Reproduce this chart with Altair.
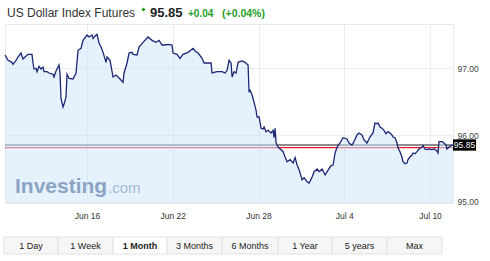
import altair as alt
import pandas as pd

# ---------------- data ----------------
days = [10.26, 10.47, 10.75, 10.82, 11.03, 11.17, 11.38, 11.52, 11.66, 11.87,
        12.15, 12.22, 12.29, 12.43, 12.50, 12.64, 12.78, 12.92, 12.99, 13.20,
        13.34, 13.62, 13.69, 13.83, 14.04, 14.11, 14.18, 14.32, 14.39, 14.53,
        14.60, 14.74, 15.02, 15.23, 15.37, 15.58, 15.72, 16.00, 16.14, 16.35,
        16.42, 16.63, 16.70, 16.84, 16.98, 17.12, 17.33, 17.40, 17.61, 17.82,
        18.03, 18.31, 18.52, 18.59, 18.80, 18.94, 19.15, 19.22, 19.50, 19.64,
        19.92, 20.27, 20.55, 20.83, 21.04, 21.25, 21.46, 21.67, 21.95, 22.02,
        22.30, 22.51, 22.72, 23.07, 23.42, 23.56, 23.77, 24.05, 24.19, 24.47,
        24.68, 24.75, 25.10, 25.45, 25.66, 25.80, 25.94, 26.08, 26.15, 26.29,
        26.43, 26.57, 26.85, 27.06, 27.27, 27.34, 27.41, 27.55, 27.69, 27.83,
        27.90, 28.04, 28.18, 28.32, 28.39, 28.53, 28.67, 28.88, 29.02, 29.09,
        29.16, 29.23, 29.37, 29.58, 29.72, 29.86, 30.00, 30.21, 30.42, 30.56,
        30.70, 30.84, 31.05, 31.19, 31.40, 31.54, 31.75, 31.89, 32.10, 32.24,
        32.45, 32.66, 32.80, 33.08, 33.22, 33.36, 33.50, 33.70, 33.91, 34.19,
        34.33, 34.54, 34.68, 34.89, 35.03, 35.24, 35.38, 35.59, 35.80, 36.01,
        36.15, 36.29, 36.36, 36.50, 36.64, 36.78, 36.92, 37.06, 37.20, 37.34,
        37.41, 37.55, 37.69, 37.76, 37.90, 38.04, 38.11, 38.25, 38.39, 38.46,
        38.60, 38.74, 38.81, 38.95, 39.09, 39.23, 39.44, 39.51, 39.65, 39.79,
        39.93, 40.14, 40.28, 40.49, 40.56, 40.63, 40.84, 40.98, 41.12, 41.19,
        41.33, 41.47, 41.61]

prices = [97.20, 97.12, 97.09, 97.06, 97.12, 97.17, 97.23, 97.14, 97.17, 97.21,
          97.21, 97.08, 96.99, 97.00, 96.95, 97.03, 96.99, 97.02, 96.95, 96.95,
          96.93, 96.91, 96.87, 96.96, 97.05, 96.93, 96.55, 96.42, 96.46, 96.57,
          96.91, 96.85, 96.84, 96.93, 97.27, 97.30, 97.42, 97.50, 97.47, 97.50,
          97.45, 97.50, 97.51, 97.38, 97.32, 97.24, 97.09, 97.17, 97.12, 96.87,
          96.90, 96.84, 96.79, 96.93, 97.08, 97.23, 97.24, 97.21, 97.20, 97.32,
          97.39, 97.47, 97.42, 97.39, 97.42, 97.35, 97.35, 97.36, 97.35, 97.23,
          97.21, 97.15, 97.21, 97.24, 97.30, 97.26, 97.23, 97.15, 97.08, 97.08,
          97.08, 96.93, 96.95, 96.95, 96.93, 96.97, 97.12, 97.08, 96.87, 96.95,
          96.93, 97.09, 97.11, 97.09, 97.05, 96.64, 96.67, 96.60, 96.49, 96.37,
          96.27, 96.27, 96.10, 96.09, 96.12, 96.05, 96.07, 96.03, 96.07, 95.96,
          96.10, 95.88, 95.82, 95.78, 95.75, 95.67, 95.60, 95.63, 95.58, 95.66,
          95.55, 95.48, 95.33, 95.36, 95.30, 95.28, 95.37, 95.45, 95.49, 95.45,
          95.49, 95.40, 95.45, 95.54, 95.55, 95.73, 95.82, 95.88, 95.96, 95.94,
          95.88, 95.85, 95.90, 96.00, 96.03, 96.00, 95.93, 95.88, 95.97, 96.03,
          96.18, 96.17, 96.18, 96.12, 96.10, 96.07, 96.02, 96.05, 96.03, 96.00,
          95.97, 95.96, 95.88, 95.81, 95.75, 95.67, 95.60, 95.57, 95.58, 95.63,
          95.67, 95.70, 95.73, 95.72, 95.75, 95.79, 95.82, 95.84, 95.79, 95.78,
          95.79, 95.78, 95.79, 95.76, 95.73, 95.90, 95.90, 95.88, 95.85, 95.79,
          95.82, 95.84, 95.85]

last_price = 95.85
prev_close = 95.81
y_ticks = [95.0, 95.5, 96.0, 96.5, 97.0, 97.5]
x_ticks = [16, 22, 28, 34, 40]
buttons = ["1 Day", "1 Week", "1 Month", "3 Months", "6 Months", "1 Year", "5 years", "Max"]
active_button = "1 Month"
title_text = "US Dollar Index Futures"
price_text = "95.85"
change_text = "+0.04"
pct_text = "(+0.04%)"

df = pd.DataFrame({"day": days, "price": prices})
levels = pd.DataFrame({"level": [last_price, prev_close], "kind": ["last", "prev"]})
one = pd.DataFrame({"a": [0]})

# ---------------- styling ----------------
FONT = "Liberation Sans"
GREEN = "#1f9e1f"
W, H = 448, 179
Y_MIN, Y_MAX = 94.98, 97.665
X_MIN, X_MAX = 10.26, 41.61

xscale = alt.Scale(domain=[X_MIN, X_MAX], nice=False, zero=False)
yscale = alt.Scale(domain=[Y_MIN, Y_MAX], nice=False, zero=False)

x_axis = alt.Axis(values=x_ticks, title=None, grid=True, ticks=False, domain=False,
                  labelPadding=8, labelFontSize=8.5, labelColor="#333", labelFont=FONT,
                  gridColor="#e9eef3",
                  labelExpr="datum.value <= 30 ? 'Jun ' + datum.value : 'Jul ' + (datum.value - 30)")
y_axis = alt.Axis(values=y_ticks, title=None, grid=True, ticks=False, domain=False,
                  orient="right", labelPadding=4, labelFontSize=8.5, labelColor="#444",
                  labelFont=FONT, gridColor="#e9eef3", labelBaseline="middle",
                  labelExpr="datum.value > 97.4 ? '' : format(datum.value, '.2f')")

X = alt.X("day:Q", scale=xscale, axis=x_axis)
Y = alt.Y("price:Q", scale=yscale, axis=y_axis)

rules = alt.Chart(levels).mark_rule(strokeWidth=1.2).encode(
    y=alt.Y("level:Q", scale=yscale, axis=y_axis),
    color=alt.Color("kind:N", scale=alt.Scale(domain=["last", "prev"], range=["#1a1a1a", "#e41f2b"]), legend=None),
)

area = alt.Chart(df).mark_area(color="#cfe6fa", opacity=0.55, line=False).encode(
    x=X, y=Y, y2=alt.datum(Y_MIN)
)
line = alt.Chart(df).mark_line(color="#1c2676", strokeWidth=1.3).encode(x=X, y=Y)

# last price label box
box = alt.Chart(one).mark_rect(color="#000000").encode(
    x=alt.value(448), x2=alt.value(471),
    y=alt.datum(last_price + 0.085, scale=yscale), y2=alt.datum(last_price - 0.085),
)
box_text = alt.Chart(one).mark_text(color="white", fontSize=8.5, font=FONT, align="center",
                                    baseline="middle").encode(
    x=alt.value(459.5), y=alt.datum(last_price, scale=yscale), text=alt.value(price_text)
)

def txt(s, x, y, size, color, weight="normal", align="left", baseline="alphabetic"):
    return alt.Chart(one).mark_text(fontSize=size, font=FONT, color=color, fontWeight=weight,
                                    align=align, baseline=baseline).encode(
        x=alt.value(x), y=alt.value(y), text=alt.value(s))

title_layers = [
    txt(title_text, 2, -7, 12, "#333333"),
    alt.Chart(one).mark_point(shape="diamond", filled=True, size=18, color=GREEN, opacity=1).encode(
        x=alt.value(138.5), y=alt.value(-14.5)),
    txt(price_text, 145, -7, 13, "#222222", "bold"),
    txt(change_text, 183, -7, 10, GREEN, "bold"),
    txt(pct_text, 217, -7, 10.5, GREEN, "bold"),
]

watermark = [
    txt("Investing", 10, 169, 21, "#8ba4c4", "bold"),
    txt(".com", 103, 169, 15, "#a5b9d3"),
]

# button row
edges = [-1, 53, 108, 162, 217, 273, 327, 382, 437]
button_layers = []
for i, b in enumerate(buttons):
    fill = "#ffffff" if b == active_button else "#f6f6f6"
    button_layers.append(
        alt.Chart(one).mark_rect(fill=fill, stroke="#e2e2e2", strokeWidth=1).encode(
            x=alt.value(edges[i]), x2=alt.value(edges[i + 1]), y=alt.value(213), y2=alt.value(230)))
    button_layers.append(
        txt(b, (edges[i] + edges[i + 1]) / 2, 221.5, 9, "#222222",
            "bold" if b == active_button else "normal", "center", "middle"))

chart = alt.layer(
    rules, area, line, box, box_text, *title_layers, *watermark, *button_layers
).properties(
    width=W, height=H,
    padding={"left": 5, "top": 24, "right": 490 - 5 - W, "bottom": 261 - 24 - H},
    autosize=alt.AutoSizeParams(type="none"),
    background="white",
).configure_view(stroke="#e6eaee", strokeWidth=1)

chart.save("out.html", embed_options={"renderer": "svg", "actions": False})
